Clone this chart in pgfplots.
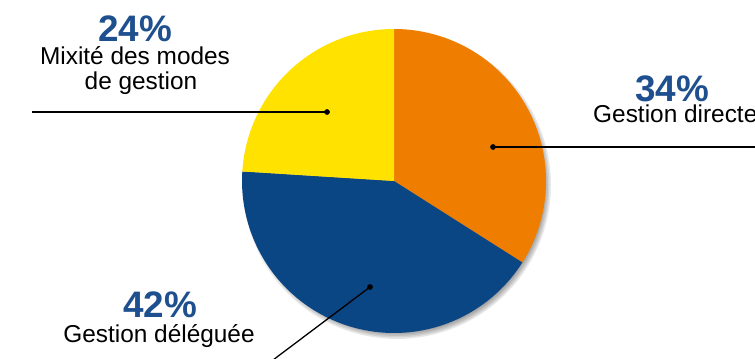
\documentclass[border=0pt]{standalone}
\usepackage{pgfplots}
\pgfplotsset{compat=1.18}
\usepackage{fontspec}
\setmainfont{Liberation Sans}
\definecolor{pieorange}{HTML}{EF7D00}
\definecolor{pieblue}{HTML}{0A4684}
\definecolor{pieyellow}{HTML}{FFE200}
\definecolor{pctblue}{HTML}{1E4F8E}
% shares (percent)
\def\vDirecte{34}
\def\vDeleguee{42}
\def\vMixite{24}
\begin{document}
\begin{tikzpicture}[x=1bp,y=1bp]
\useasboundingbox (0,0) rectangle (755,358);
\clip (0,0) rectangle (755,358);
\begin{axis}[at={(0,0)},anchor=south west,scale only axis,
  width=755bp,height=358bp,xmin=0,xmax=755,ymin=0,ymax=358,
  hide axis,clip=false]
\pgfmathsetmacro{\aA}{90-3.6*\vDirecte}
\pgfmathsetmacro{\aB}{\aA-3.6*\vDeleguee}
\pgfmathsetmacro{\aC}{\aB-3.6*\vMixite}
% soft shadow
\pgfplotsinvokeforeach{0,1.5,3,4.5,6}{
\addplot[draw=none,fill=black,fill opacity=0.09,domain=0:360,samples=120]
  ({397+(148+#1)*cos(x)},{173+(148+#1)*sin(x)}) -- cycle;
}
\addplot[draw=none,fill=pieorange,domain=\aA:90,samples=80]
  ({394+152*cos(x)},{177+152*sin(x)}) -- (394,177) -- cycle;
\addplot[draw=none,fill=pieblue,domain=\aB:\aA,samples=80]
  ({394+152*cos(x)},{177+152*sin(x)}) -- (394,177) -- cycle;
\addplot[draw=none,fill=pieyellow,domain=\aC:\aB,samples=80]
  ({394+152*cos(x)},{177+152*sin(x)}) -- (394,177) -- cycle;
% leader lines
\addplot[black,line width=1.3bp] coordinates {(32,246) (327,246)};
\addplot[black,line width=1.3bp] coordinates {(493,211) (760,211)};
\addplot[black,line width=1.3bp] coordinates {(370,71) (273,-2)};
\addplot[only marks,mark=*,mark size=2.6bp,black] coordinates {(327,246) (493,211) (370,71)};
% labels
\node[anchor=base,inner sep=0pt,text=pctblue,font=\bfseries\fontsize{37}{37}\selectfont] at (135,316) {24\%};
\node[anchor=base,inner sep=0pt,font=\fontsize{24.5}{25}\selectfont] at (135,293) {Mixité des modes};
\node[anchor=base,inner sep=0pt,font=\fontsize{24.5}{25}\selectfont] at (141,268) {de gestion};
\node[anchor=base,inner sep=0pt,text=pctblue,font=\bfseries\fontsize{37}{37}\selectfont] at (672,256) {34\%};
\node[anchor=base west,inner sep=0pt,font=\fontsize{24.5}{25}\selectfont] at (593,235) {Gestion directe};
\node[anchor=base,inner sep=0pt,text=pctblue,font=\bfseries\fontsize{37}{37}\selectfont] at (160,41) {42\%};
\node[anchor=base,inner sep=0pt,font=\fontsize{24.5}{25}\selectfont] at (159,16) {Gestion déléguée};
\end{axis}
\end{tikzpicture}
\end{document}
